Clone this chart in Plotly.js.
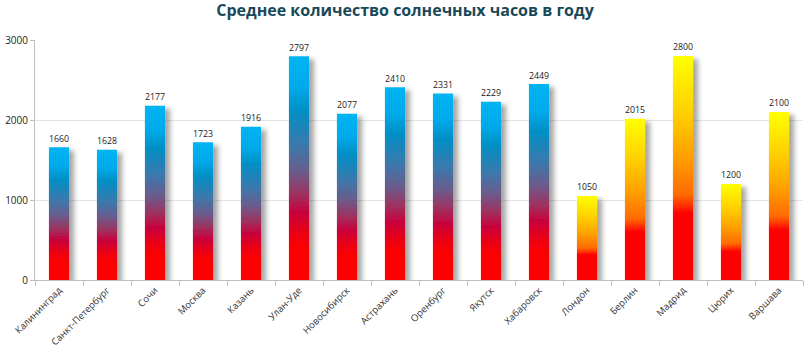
<!DOCTYPE html>
<html><head><meta charset="utf-8">
<script src="https://cdn.plot.ly/plotly-3.0.1.min.js"></script>
<style>html,body{margin:0;padding:0;background:#fff;}#chart{width:810px;height:352px;}</style>
</head><body>
<div id="chart"></div>
<svg width="0" height="0" style="position:absolute">
<defs>
<linearGradient id="gradBlue" x1="0" y1="0" x2="0" y2="1">
<stop offset="0" stop-color="#00B4F2"/>
<stop offset="0.14" stop-color="#00AAEA"/>
<stop offset="0.24" stop-color="#0090C6"/>
<stop offset="0.40" stop-color="#3C78AC"/>
<stop offset="0.52" stop-color="#6C5A8A"/>
<stop offset="0.62" stop-color="#A0305E"/>
<stop offset="0.70" stop-color="#C8003C"/>
<stop offset="0.80" stop-color="#EE0010"/>
<stop offset="0.86" stop-color="#FF0000"/>
<stop offset="1" stop-color="#FF0000"/>
</linearGradient>
<linearGradient id="gradYellow" x1="0" y1="0" x2="0" y2="1">
<stop offset="0" stop-color="#FFFF00"/>
<stop offset="0.25" stop-color="#FFD000"/>
<stop offset="0.45" stop-color="#FFA000"/>
<stop offset="0.62" stop-color="#FF6A00"/>
<stop offset="0.68" stop-color="#FF2000"/>
<stop offset="0.70" stop-color="#FF0000"/>
<stop offset="1" stop-color="#FF0000"/>
</linearGradient>
<filter id="barShadow" x="-20%" y="-10%" width="200%" height="130%">
<feDropShadow dx="5" dy="3" stdDeviation="2.5" flood-color="#606060" flood-opacity="0.55"/>
</filter>
</defs>
</svg>
<script>
const cities = ["Калининград","Санкт-Петербург","Сочи","Москва","Казань","Улан-Уде","Новосибирск","Астрахань","Оренбург","Якутск","Хабаровск","Лондон","Берлин","Мадрид","Цюрих","Варшава"];
const hours = [1660,1628,2177,1723,1916,2797,2077,2410,2331,2229,2449,1050,2015,2800,1200,2100];
const region = ["ru","ru","ru","ru","ru","ru","ru","ru","ru","ru","ru","eu","eu","eu","eu","eu"];
const baseColors = {ru:"#00B0F0", eu:"#FFFF00"};
const gradIds = {ru:"gradBlue", eu:"gradYellow"};

const trace = {
  type: "bar",
  x: cities,
  y: hours,
  text: hours.map(String),
  textposition: "outside",
  cliponaxis: false,
  textfont: {family: "Open Sans, sans-serif", size: 10.5, color: "#1a1a1a"},
  marker: {color: region.map(r => baseColors[r]), line: {width: 0}},
  hoverinfo: "x+y"
};

const layout = {
  width: 810, height: 352,
  margin: {l: 35, r: 7, t: 40, b: 72},
  paper_bgcolor: "#fff", plot_bgcolor: "#fff",
  title: {text: "<b>Среднее количество солнечных часов в году</b>", x: 0.5, xanchor: "center", y: 0.985, yanchor: "top",
    font: {family: "Open Sans, sans-serif", size: 16, color: "#18495A"}},
  bargap: 0.58,
  showlegend: false,
  xaxis: {type: "category", tickangle: -45, showline: true, linecolor: "#BFBFBF", linewidth: 1,
    ticks: "outside", tickson: "boundaries", ticklen: 5, tickcolor: "#BFBFBF",
    tickfont: {family: "Open Sans, sans-serif", size: 9.5, color: "#333"}, showgrid: false},
  yaxis: {range: [0, 3000], dtick: 1000, tick0: 0, showline: true, linecolor: "#BFBFBF", linewidth: 1,
    ticks: "outside", ticklen: 4, tickcolor: "#BFBFBF", gridcolor: "#E3E3E3", zeroline: false,
    tickfont: {family: "Open Sans, sans-serif", size: 10, color: "#222"}}
};

function applyGradients() {
  const pts = document.querySelectorAll("#chart .barlayer .trace .points .point path");
  pts.forEach((p, i) => {
    const r = region[i];
    p.style.fill = "url(#" + gradIds[r] + ")";
    p.setAttribute("filter", "url(#barShadow)");
  });
}
Plotly.newPlot("chart", [trace], layout, {displayModeBar: false, staticPlot: true}).then(gd => {
  applyGradients();
  gd.on("plotly_afterplot", applyGradients);
});
</script>
</body></html>
